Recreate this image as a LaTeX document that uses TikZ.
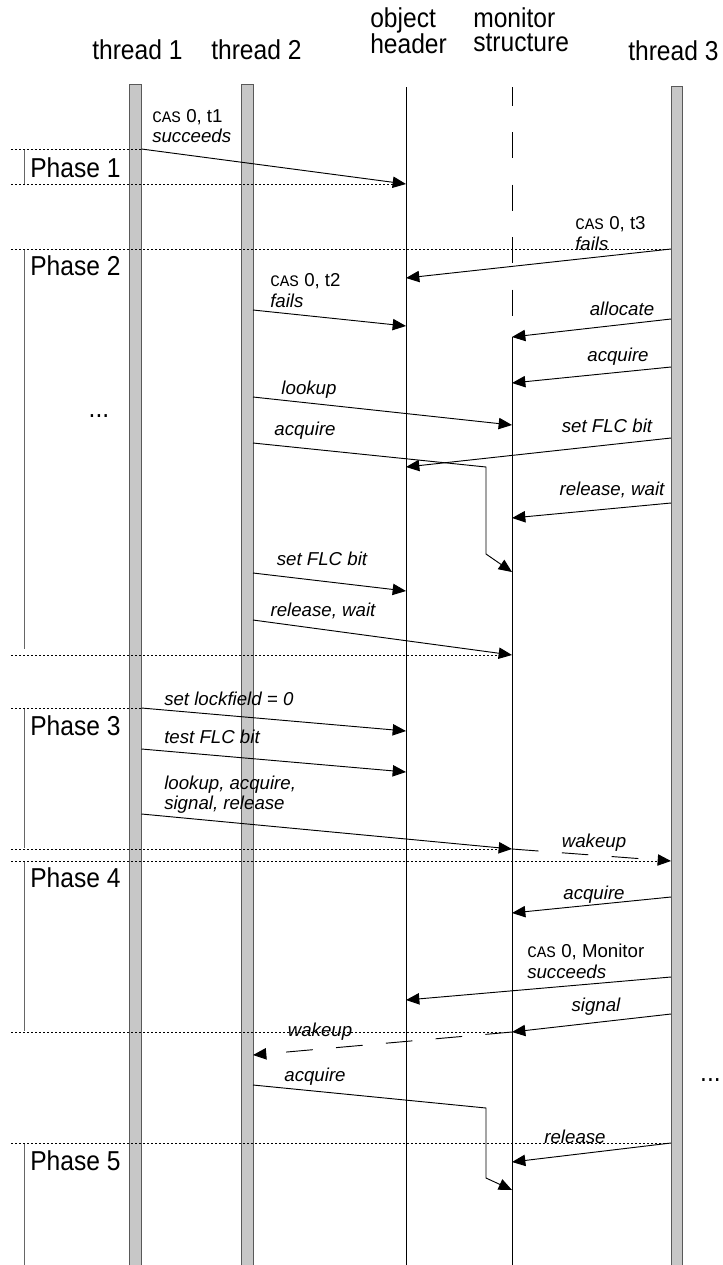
\documentclass[tikz,border=0pt]{standalone}
\usepackage{fontspec}
\setmainfont{Liberation Sans}
\newfontfamily\hdfont{Liberation Sans}[FakeStretch=0.9]
\setmonofont{Liberation Mono}
\usetikzlibrary{arrows.meta}
\newcommand\casw{{\ttfamily\upshape\fontsize{12}{14}\selectfont CAS}}
\tikzset{
  hd/.style={font=\hdfont\fontsize{20.5}{18}\selectfont, inner sep=0pt},
  lbl/.style={font=\itshape\fontsize{14}{16}\selectfont, inner sep=0pt},
  bar/.style={fill=black!22, draw=black!65, line width=0.7pt},
  msg/.style={line width=0.7pt, -{Triangle[length=10pt,width=8.5pt]}},
  sep/.style={line width=0.6pt, dash pattern=on 1.5pt off 1.5pt},
  brk/.style={line width=0.6pt, draw=black!60},
  wk/.style={msg, dash pattern=on 20pt off 17.5pt},
  life/.style={line width=0.7pt}
}
\begin{document}
\begin{tikzpicture}[x=0.75pt,y=-0.75pt]
\useasboundingbox (0,0) rectangle (723,1265);
% headers
\node[hd, anchor=base west] (h1) at (92,59) {thread 1};
\node[hd, anchor=base west] (h2) at (211,59) {thread 2};
\node[hd, anchor=north west, align=left] (h3) at (370,7) {object\\header};
\node[hd, anchor=north west, align=left] (h4) at (473,7) {monitor\\structure};
\node[hd, anchor=base west] (h5) at (628,60) {thread 3};
% lifelines
\draw[bar] (129.5,84.5) rectangle (141.5,1270);
\draw[bar] (241,84.5) rectangle (253,1270);
\draw[bar] (671,86) rectangle (682,1270);
\draw[life] (406,87) -- (406,1270);
\draw[life, dash pattern=on 19.5pt off 19.9pt, dash phase=5.6pt] (512,87) -- (512,337);
\draw[life] (512,337) -- (512,1270);
% phase labels and brackets
\node[hd, anchor=base west] (p1) at (30,177) {Phase 1};
\node[hd, anchor=base west] (p2) at (30,275) {Phase 2};
\node[hd, anchor=base west] (p3) at (30,735) {Phase 3};
\node[hd, anchor=base west] (p4) at (30,887) {Phase 4};
\node[hd, anchor=base west] (p5) at (30,1170) {Phase 5};
\node[hd, anchor=base] (dots1) at (99,417) {...};
\node[hd, anchor=base east] (dots2) at (721,1081) {...};
\draw[brk] (24,150) -- (24,184);
\draw[brk] (24,249) -- (24,649);
\draw[brk] (24,709) -- (24,848);
\draw[brk] (24,862) -- (24,1031);
\draw[brk] (24,1144) -- (24,1270);
% coordinates
\coordinate (a1s) at (141.5,149); \coordinate (a1e) at (406,184);
\coordinate (a2s) at (671,249);   \coordinate (a2e) at (406,278);
\coordinate (a3s) at (253,310);   \coordinate (a3e) at (406,326);
\coordinate (a4s) at (671,319);   \coordinate (a4e) at (512,337);
\coordinate (a5s) at (671,367);   \coordinate (a5e) at (512,383);
\coordinate (a6s) at (253,397);   \coordinate (a6e) at (512,425);
\coordinate (a7s) at (671,438);   \coordinate (a7e) at (406,467);
\coordinate (a8s) at (253,443);   \coordinate (a8b) at (486,467);
\coordinate (a8c) at (486,554);   \coordinate (a8e) at (512,572);
\coordinate (a9s) at (671,503);   \coordinate (a9e) at (512,518);
\coordinate (a10s) at (253,573);  \coordinate (a10e) at (406,591);
\coordinate (a11s) at (253,620);  \coordinate (a11e) at (512,655);
\coordinate (a12s) at (141.5,708);\coordinate (a12e) at (406,731);
\coordinate (a13s) at (141.5,749);\coordinate (a13e) at (406,772);
\coordinate (a14s) at (141.5,814);\coordinate (a14e) at (512,849);
\coordinate (a15s) at (512,849);  \coordinate (a15e) at (671,861);
\coordinate (a16s) at (671,897);  \coordinate (a16e) at (512,913);
\coordinate (a17s) at (671,977);  \coordinate (a17e) at (406,1000);
\coordinate (a18s) at (671,1014); \coordinate (a18e) at (512,1032);
\coordinate (a19s) at (512,1032); \coordinate (a19e) at (253,1055);
\coordinate (a20s) at (253,1085); \coordinate (a20b) at (486,1108);
\coordinate (a20c) at (486,1178); \coordinate (a20e) at (512,1190);
\coordinate (a21s) at (671,1143); \coordinate (a21e) at (512,1162);
% phase separators
\coordinate (s1) at (11,149); \coordinate (s2) at (11,184);
\coordinate (s3) at (11,249); \coordinate (s4) at (11,655);
\coordinate (s5) at (11,708); \coordinate (s6) at (11,849);
\coordinate (s7) at (11,861); \coordinate (s8) at (11,1032);
\coordinate (s9) at (11,1143);
\coordinate (s2e) at (398,184); \coordinate (s4e) at (503,655);
\coordinate (s6e) at (503,849); \coordinate (s7e) at (662,861);
\coordinate (s8e) at (503,1032);
\draw[sep] (s1) -- (a1s);
\draw[sep] (s2) -- (s2e);
\draw[sep] (s3) -- (a2s);
\draw[sep] (s4) -- (s4e);
\draw[sep] (s5) -- (a12s);
\draw[sep] (s6) -- (s6e);
\draw[sep] (s7) -- (s7e);
\draw[sep] (s8) -- (s8e);
\draw[sep] (s9) -- (a21s);
% messages
\draw[msg] (a1s) -- (a1e);
\draw[msg] (a2s) -- (a2e);
\draw[msg] (a3s) -- (a3e);
\draw[msg] (a4s) -- (a4e);
\draw[msg] (a5s) -- (a5e);
\draw[msg] (a6s) -- (a6e);
\draw[msg] (a7s) -- (a7e);
\draw[msg] (a8s) -- (a8b) -- (a8c) -- (a8e);
\draw[msg] (a9s) -- (a9e);
\draw[msg] (a10s) -- (a10e);
\draw[msg] (a11s) -- (a11e);
\draw[msg] (a12s) -- (a12e);
\draw[msg] (a13s) -- (a13e);
\draw[msg] (a14s) -- (a14e);
\draw[wk] (a15s) -- (a15e);
\draw[msg] (a16s) -- (a16e);
\draw[msg] (a17s) -- (a17e);
\draw[msg] (a18s) -- (a18e);
\draw[wk] (a19s) -- (a19e);
\draw[msg] (a20s) -- (a20b) -- (a20c) -- (a20e);
\draw[msg] (a21s) -- (a21e);
% labels
\node[lbl, anchor=mid west] (l1a) at (152,119) {\casw\upshape{} 0, t1};
\node[lbl, anchor=mid west] (l1b) at (152,139) {succeeds};
\node[lbl, anchor=mid west] (l2a) at (575,226) {\casw\upshape{} 0, t3};
\node[lbl, anchor=mid west] (l2b) at (575,247) {fails};
\node[lbl, anchor=mid west] (l3a) at (270,283) {\casw\upshape{} 0, t2};
\node[lbl, anchor=mid west] (l3b) at (270,304) {fails};
\node[lbl, anchor=mid] (l4) at (622,312) {allocate};
\node[lbl, anchor=mid] (l5) at (618,358) {acquire};
\node[lbl, anchor=mid] (l6) at (309,391) {lookup};
\node[lbl, anchor=mid] (l7) at (607,429) {set FLC bit};
\node[lbl, anchor=mid] (l8) at (305,432) {acquire};
\node[lbl, anchor=mid] (l9) at (612,492) {release, wait};
\node[lbl, anchor=mid] (l10) at (322,562) {set FLC bit};
\node[lbl, anchor=mid] (l11) at (323,613) {release, wait};
\node[lbl, anchor=mid west] (l12) at (164,702) {set lockfield = 0};
\node[lbl, anchor=mid west] (l13) at (164,740) {test FLC bit};
\node[lbl, anchor=mid west] (l14a) at (164,786) {lookup, acquire,};
\node[lbl, anchor=mid west] (l14b) at (164,806) {signal, release};
\node[lbl, anchor=mid] (l15) at (594,844) {wakeup};
\node[lbl, anchor=mid] (l16) at (594,896) {acquire};
\node[lbl, anchor=mid west] (l17a) at (527,954) {\casw\upshape{} 0, Monitor};
\node[lbl, anchor=mid west] (l17b) at (527,975) {succeeds};
\node[lbl, anchor=mid] (l18) at (596,1008) {signal};
\node[lbl, anchor=mid] (l19) at (320,1033) {wakeup};
\node[lbl, anchor=mid] (l20) at (315,1078) {acquire};
\node[lbl, anchor=mid] (l21) at (575,1140) {release};
\end{tikzpicture}
\end{document}
